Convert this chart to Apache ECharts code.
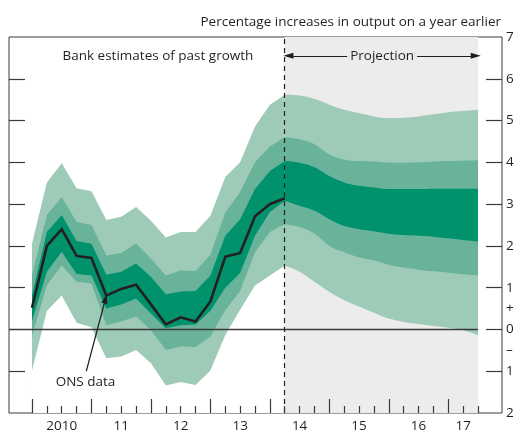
<!DOCTYPE html>
<html>
<head>
<meta charset="utf-8">
<script src="https://cdn.jsdelivr.net/npm/echarts@6/dist/echarts.min.js"></script>
<style>
  html, body { margin: 0; padding: 0; background: #fff; }
  #chart { width: 520px; height: 433px; }
</style>
</head>
<body>
<div id="chart"></div>
<script>
// quarters from 2010 Q1 (index 0) to 2017 Q3 (index 30)
const lastDataQuarter = 17   // ONS data / projection start

const onsGrowth = [0.52, 2.0, 2.4, 1.76, 1.71, 0.81, 0.97, 1.07, 0.6, 0.12,
    0.29, 0.19, 0.67, 1.74, 1.83, 2.71, 3.0, 3.14]

// fan chart band edges (90%, 60%, 30% ranges)
const upper90 = [2.05, 3.52, 3.98, 3.38, 3.31, 2.62, 2.70, 2.93, 2.60, 2.20,
    2.33, 2.33, 2.72, 3.65, 4.0, 4.86, 5.38, 5.62, 5.60, 5.52,
    5.38, 5.26, 5.18, 5.10, 5.06, 5.07, 5.10, 5.15, 5.20, 5.23, 5.26]
const upper60 = [1.3, 2.74, 3.17, 2.57, 2.5, 1.77, 1.83, 2.06, 1.7, 1.29,
    1.41, 1.4, 1.79, 2.8, 3.29, 4.0, 4.38, 4.6, 4.55, 4.43,
    4.19, 4.07, 4.03, 4.02, 3.99, 3.99, 4.0, 4.02, 4.03, 4.04, 4.05]
const upper30 = [0.82, 2.33, 2.74, 2.12, 2.05, 1.31, 1.38, 1.58, 1.26, 0.84,
    0.91, 0.92, 1.29, 2.24, 2.64, 3.36, 3.79, 4.03, 3.99, 3.88,
    3.67, 3.52, 3.44, 3.40, 3.36, 3.36, 3.36, 3.37, 3.37, 3.37, 3.37]
const lower30 = [0.2, 1.38, 1.86, 1.33, 1.29, 0.5, 0.6, 0.74, 0.38, 0.03,
    0.1, 0.12, 0.45, 1.0, 1.35, 2.24, 2.81, 3.08, 2.96, 2.84,
    2.64, 2.48, 2.40, 2.35, 2.29, 2.26, 2.24, 2.22, 2.18, 2.14, 2.10]
const lower60 = [-0.15, 1.06, 1.53, 1.14, 1.1, 0.1, 0.19, 0.31, -0.02, -0.49,
    -0.41, -0.42, -0.17, 0.46, 0.92, 1.85, 2.33, 2.52, 2.45, 2.29,
    2.0, 1.85, 1.73, 1.65, 1.55, 1.48, 1.43, 1.39, 1.36, 1.32, 1.29]
const lower90 = [-0.98, 0.44, 0.81, 0.16, 0.05, -0.69, -0.65, -0.49, -0.81, -1.34,
    -1.26, -1.33, -0.98, -0.13, 0.47, 1.05, 1.29, 1.53, 1.38, 1.14,
    0.9, 0.7, 0.55, 0.4, 0.26, 0.18, 0.13, 0.08, 0.04, -0.02, -0.14]

const yearLabels = ['2010', '11', '12', '13', '14', '15', '16', '17']
const yearLabelPos = [2, 6, 10, 14, 18, 22, 26, 29]
const majorTicks = [0, 4, 8, 12, 16, 20, 24, 28]

const xMin = -1.547, xMax = 31.614
const textColor = '#231f20'
const frameColor = '#3a3a3a'
const light = '#9ecbb7', medium = '#6ab39b', dark = '#00926c'
const projBg = '#ececec'
const font = 'Open Sans'
const fontSize = 13.5

let chart = echarts.init(document.getElementById('chart'))

function pairs(arr, from, to) {
    let res = []
    for (let i = from; i <= to; i++) res.push([i, arr[i]])
    return res
}

// each edge fills down to the axis bottom; drawn top edge first so the
// next edge paints over it -> bands. lowest edge repaints the background
function fanSeries(from, to, smooth, bg) {
    let edges = [
        [upper90, light],
        [upper60, medium],
        [upper30, dark],
        [lower30, medium],
        [lower60, light],
        [lower90, bg]
    ]
    return edges.map((e, i) => ({
        type: 'line', data: pairs(e[0], from, to), smooth: smooth,
        symbol: 'none', silent: true, z: 2 + i * 0.01,
        lineStyle: {width: 0},
        areaStyle: {color: e[1], opacity: 1, origin: 'start'}
    }))
}

let minorTicks = []
for (let i = 0; i <= 30; i++) if (i % 4 !== 0) minorTicks.push(i)

const tickStyle = {color: frameColor, width: 1.2}

let option = {
    animation: false,
    textStyle: {fontFamily: font, color: textColor},
    grid: {
        left: 9, right: 18, top: 37, bottom: 18,
        show: true, borderColor: frameColor, borderWidth: 1, backgroundColor: '#fff'
    },
    xAxis: [
        {
            type: 'value', min: xMin, max: xMax, position: 'bottom', z: 10,
            axisLine: {show: false, onZero: false}, splitLine: {show: false},
            axisTick: {inside: true, length: 14, customValues: majorTicks, lineStyle: tickStyle},
            axisLabel: {customValues: yearLabelPos, margin: 6, fontSize: fontSize, color: textColor,
                fontFamily: font,
                formatter: v => yearLabels[yearLabelPos.indexOf(v)]}
        },
        {
            type: 'value', min: xMin, max: xMax, position: 'bottom', z: 10,
            axisLine: {show: false, onZero: false}, splitLine: {show: false},
            axisTick: {inside: true, length: 7, customValues: minorTicks, lineStyle: tickStyle},
            axisLabel: {show: false}
        }
    ],
    yAxis: [
        {
            type: 'value', min: -2, max: 7, position: 'left', z: 10,
            axisLine: {show: false, onZero: false}, splitLine: {show: false},
            axisTick: {show: true, inside: true, length: 16, customValues: [-1, 1, 2, 3, 4, 5, 6],
                lineStyle: tickStyle},
            axisLabel: {show: false}
        },
        {
            type: 'value', min: -2, max: 7, position: 'right', z: 10,
            axisLine: {show: false, onZero: false}, splitLine: {show: false},
            axisTick: {show: true, inside: true, length: 16, customValues: [-1, 0, 1, 2, 3, 4, 5, 6],
                lineStyle: tickStyle},
            axisLabel: {
                customValues: [-2, -1, -0.5, 0, 0.5, 1, 2, 3, 4, 5, 6, 7],
                margin: 4, fontSize: fontSize, color: textColor, fontFamily: font,
                formatter: v => v === 0.5 ? '+' : v === -0.5 ? '–' : String(Math.abs(v))
            }
        }
    ],
    graphic: [
        {type: 'text', right: 19, top: 15,
            style: {text: 'Percentage increases in output on a year earlier', fontSize: fontSize,
                fontFamily: font, fill: textColor}}
    ],
    series: [
        // projection background
        {
            type: 'line', data: [], silent: true, z: 1,
            markArea: {
                silent: true,
                itemStyle: {color: projBg},
                data: [[{xAxis: lastDataQuarter, yAxis: -2}, {xAxis: 30, yAxis: 7}]]
            }
        },
        ...fanSeries(0, lastDataQuarter, false, '#ffffff'),
        ...fanSeries(lastDataQuarter, 30, 0.4, projBg),
        {
            type: 'line', name: 'ONS data', data: pairs(onsGrowth, 0, lastDataQuarter),
            symbol: 'none', z: 5,
            lineStyle: {color: '#231f20', width: 2.6, join: 'miter'},
            markLine: {
                silent: true, symbol: 'none', label: {show: false},
                data: [
                    [{coord: [xMin, 0], lineStyle: {color: frameColor, width: 1.3, type: 'solid'}},
                        {coord: [30, 0]}],
                    [{xAxis: lastDataQuarter, yAxis: -2, lineStyle: {color: '#231f20', width: 1.2, type: [5, 4]}},
                        {xAxis: lastDataQuarter, yAxis: 7}],
                    [{coord: [3.65, -1.0], symbol: 'none',
                        lineStyle: {color: '#231f20', width: 1.2, type: 'solid'}},
                        {coord: [4.95, 0.74], symbol: 'triangle', symbolSize: [6, 10]}],
                    [{coord: [21.2, 6.55], symbol: 'none',
                        lineStyle: {color: '#231f20', width: 1.2, type: 'solid'}},
                        {coord: [17.25, 6.55], symbol: 'triangle', symbolSize: [6, 10]}],
                    [{coord: [25.9, 6.55], symbol: 'none',
                        lineStyle: {color: '#231f20', width: 1.2, type: 'solid'}},
                        {coord: [29.85, 6.55], symbol: 'triangle', symbolSize: [6, 10]}]
                ]
            },
            markPoint: {
                silent: true, symbol: 'circle', symbolSize: 0,
                label: {show: true, color: textColor, fontSize: fontSize, fontFamily: font},
                data: [
                    {coord: [8.47, 6.55], label: {formatter: 'Bank estimates of past growth'}},
                    {coord: [23.55, 6.55], label: {formatter: 'Projection'}},
                    {coord: [3.6, -1.25], label: {formatter: 'ONS data'}}
                ]
            }
        }
    ]
}

chart.setOption(option)
</script>
</body>
</html>
